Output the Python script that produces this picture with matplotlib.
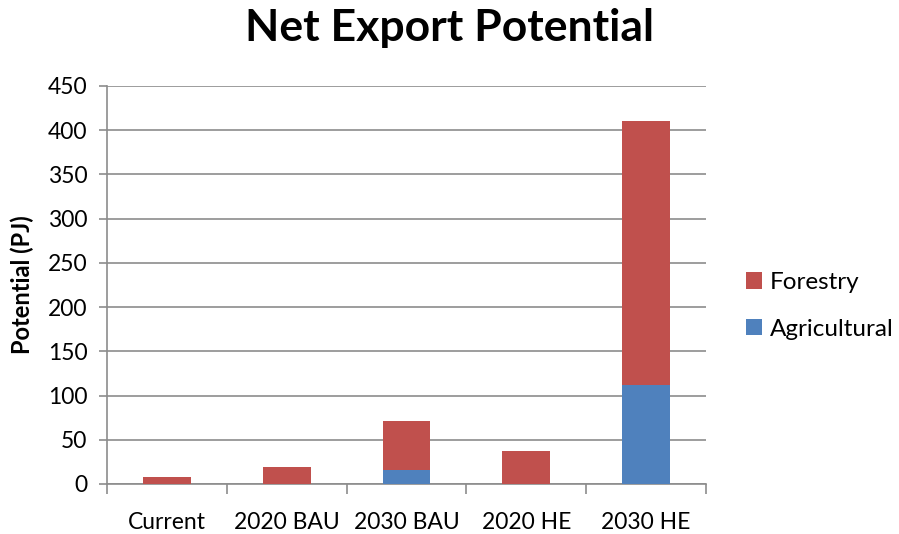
import matplotlib
matplotlib.use("Agg")
import matplotlib.pyplot as plt
import numpy as np

categories = ["Current", "2020 BAU", "2030 BAU", "2020 HE", "2030 HE"]
agricultural = [0, 0, 16, 0, 112]
forestry = [8, 19, 55, 37, 298]
yticks = [0, 50, 100, 150, 200, 250, 300, 350, 400, 450]

plt.rcParams['font.family'] = ['Lato', 'DejaVu Sans']

fig = plt.figure(figsize=(8.99, 5.34), dpi=100)
ax = fig.add_axes([107/899, 50/534, 599/899, 398/534])

x = np.arange(len(categories))
blue = "#4F81BD"
red = "#C0504D"
ax.bar(x, agricultural, width=0.4, color=blue, label="Agricultural", zorder=3)
ax.bar(x, forestry, width=0.4, bottom=agricultural, color=red, label="Forestry", zorder=3)

ax.set_xlim(-0.5, len(categories) - 0.5)
ax.set_ylim(0, 450)
ax.set_yticks(yticks)
ax.yaxis.grid(True, color="#8c8c8c", linewidth=1.2, zorder=0)
ax.set_axisbelow(True)

ax.set_xticks(x)
ax.set_xticklabels(categories, fontsize=16.5)
ax.set_xticks(np.arange(-0.5, len(categories)), minor=True)
ax.tick_params(axis='x', which='major', length=0, pad=20)
ax.tick_params(axis='x', which='minor', length=7, color="#8c8c8c", width=1.2)
ax.tick_params(axis='y', length=6, color="#8c8c8c", width=1.2, labelsize=16.5, pad=8)

for s in ["top", "right"]:
    ax.spines[s].set_visible(False)
for s in ["left", "bottom"]:
    ax.spines[s].set_color("#8c8c8c")
    ax.spines[s].set_linewidth(1.2)

ax.set_ylabel("Potential (PJ)", fontsize=17, fontweight="bold", labelpad=10)
fig.suptitle("Net Export Potential", fontsize=32, fontweight="bold", y=0.985)

handles, labels = ax.get_legend_handles_labels()
ax.legend(handles[::-1], labels[::-1], loc="center left", bbox_to_anchor=(1.03, 0.4475),
          frameon=False, fontsize=17.5, handlelength=0.65, handleheight=0.65,
          labelspacing=1.05, handletextpad=0.35)

fig.savefig("out.png", dpi=100)
